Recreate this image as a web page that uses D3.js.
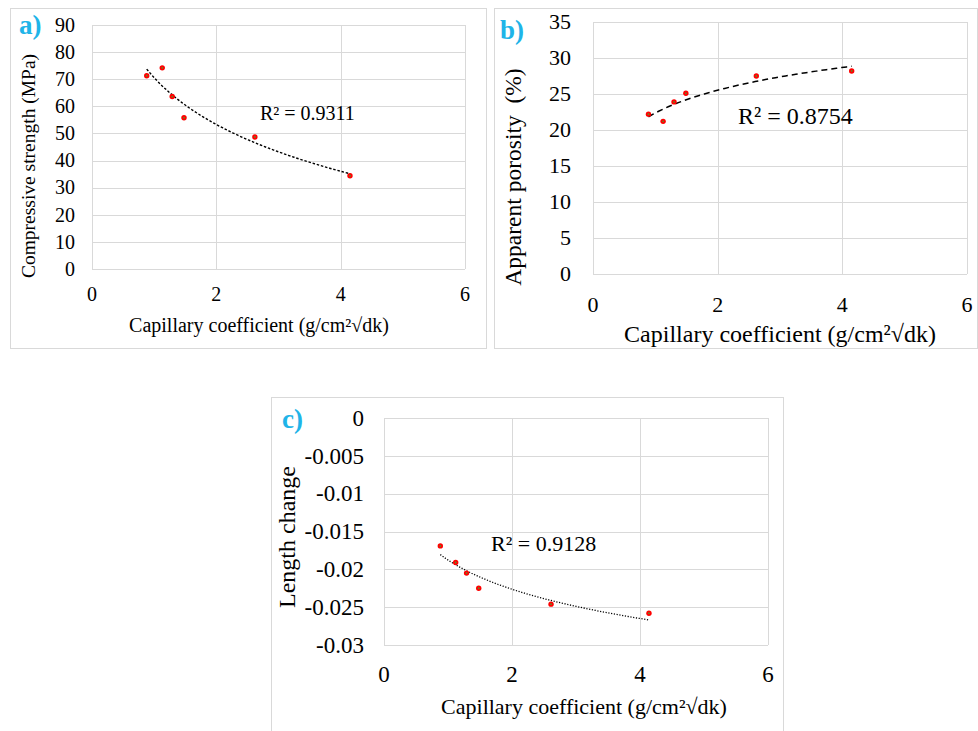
<!DOCTYPE html>
<html>
<head>
<meta charset="utf-8">
<script src="https://cdn.jsdelivr.net/npm/d3@7"></script>
<style>
  body { margin: 0; background: #fff; }
  svg { display: block; }
  svg text { font-family: "Liberation Serif", "Times New Roman", serif; }
</style>
</head>
<body>
<svg id="chart" width="978" height="731"></svg>
<script>
// Three scatter panels against capillary coefficient, each with a log trendline.

const capA = [0.88, 1.13, 1.29, 1.48, 2.62, 4.15];
const strength = [71.3, 74.2, 63.6, 55.8, 48.7, 34.4];

const capB = [0.89, 1.125, 1.30, 1.49, 2.62, 4.15];
const porosity = [22.2, 21.2, 23.9, 25.1, 27.5, 28.2];

const capC = [0.88, 1.12, 1.29, 1.48, 2.61, 4.14];
const lengthChange = [-0.0169, -0.0191, -0.0205, -0.0225, -0.0246, -0.0258];

const xTicks = [0, 2, 4, 6];
const yTicksA = d3.range(0, 91, 10);
const yTicksB = d3.range(0, 36, 5);
const yTicksC = [0, -0.005, -0.01, -0.015, -0.02, -0.025, -0.03];

const X_LABEL = 'Capillary coefficient (g/cm²√dk)';
const SERIF = '"Liberation Serif", "Times New Roman", serif';

const svg = d3.select('#chart');
svg.append('rect').attr('width', 978).attr('height', 731).attr('fill', '#fff');

// least squares y = a + b ln(x), same as the spreadsheet log trendline
function logFit(xs, ys) {
    const lx = xs.map(Math.log);
    const mx = d3.mean(lx), my = d3.mean(ys);
    const b = d3.sum(lx, (v, i) => (v - mx) * (ys[i] - my)) / d3.sum(lx, (v) => (v - mx) ** 2);
    return (x) => my + b * (Math.log(x) - mx);
}

function panel(o) {
    const g = svg.append('g').attr('font-family', SERIF);

    g.append('rect')
        .attr('x', o.frame[0] + 0.5).attr('y', o.frame[1] + 0.5)
        .attr('width', o.frame[2] - o.frame[0]).attr('height', o.frame[3] - o.frame[1])
        .attr('fill', '#fff').attr('stroke', '#d9d9d9');

    const x = d3.scaleLinear().domain([0, 6]).range([o.plot[0], o.plot[2]]);
    const y = d3.scaleLinear().domain(o.yDomain).range([o.plot[3], o.plot[1]]);

    // grid
    g.append('g').selectAll('line').data(o.yTicks).join('line')
        .attr('x1', o.plot[0]).attr('x2', o.plot[2])
        .attr('y1', (d) => Math.round(y(d)) + 0.5).attr('y2', (d) => Math.round(y(d)) + 0.5)
        .attr('stroke', '#d9d9d9').attr('stroke-width', 1);
    g.append('g').selectAll('line').data(xTicks).join('line')
        .attr('y1', o.plot[1]).attr('y2', o.plot[3])
        .attr('x1', (d) => Math.round(x(d)) + 0.5).attr('x2', (d) => Math.round(x(d)) + 0.5)
        .attr('stroke', '#d9d9d9').attr('stroke-width', 1);

    // tick labels
    g.append('g').selectAll('text').data(o.yTicks).join('text')
        .attr('x', o.plot[0] - o.yPad).attr('y', (d) => y(d))
        .attr('dy', '0.34em').attr('text-anchor', 'end')
        .attr('font-size', o.tickSize).attr('fill', '#000')
        .text(o.yFormat);
    g.append('g').selectAll('text').data(xTicks).join('text')
        .attr('x', (d) => x(d)).attr('y', o.xTickY)
        .attr('text-anchor', 'middle')
        .attr('font-size', o.tickSize).attr('fill', '#000')
        .text((d) => d);

    // axis titles
    g.append('text')
        .attr('x', o.xLabel[0]).attr('y', o.xLabel[1])
        .attr('text-anchor', 'middle').attr('font-size', o.titleSize)
        .text(X_LABEL);
    g.append('text')
        .attr('transform', `translate(${o.yLabel[0]},${o.yLabel[1]}) rotate(-90)`)
        .attr('text-anchor', 'middle').attr('font-size', o.yTitleSize)
        .style('white-space', 'pre')
        .text(o.yTitle);

    // trendline
    const fit = logFit(o.xs, o.ys);
    const [x0, x1] = d3.extent(o.xs);
    const xsLine = d3.range(0, 41).map((i) => x0 + (x1 - x0) * i / 40);
    g.append('path')
        .attr('d', d3.line().x((d) => x(d)).y((d) => y(fit(d)))(xsLine))
        .attr('fill', 'none').attr('stroke', '#000')
        .attr('stroke-width', o.trendWidth).attr('stroke-dasharray', o.dash);

    // markers
    const pts = o.xs.map((v, i) => [v, o.ys[i]]);
    g.append('g').selectAll('circle').data(pts).join('circle')
        .attr('cx', (d) => x(d[0])).attr('cy', (d) => y(d[1])).attr('r', 2.7)
        .attr('fill', '#ff0000');
    g.append('g').selectAll('circle').data(pts).join('circle')
        .attr('cx', (d) => x(d[0])).attr('cy', (d) => y(d[1])).attr('r', 0.9)
        .attr('fill', '#5b8f2a');

    g.append('text')
        .attr('x', o.r2[0]).attr('y', o.r2[1])
        .attr('font-size', o.r2Size)
        .text(o.r2Text);

    g.append('text')
        .attr('x', o.letter[0]).attr('y', o.letter[1])
        .attr('font-size', 27).attr('font-weight', 'bold').attr('fill', '#1fb4e8')
        .text(o.letterText);
}

panel({
    frame: [10, 8, 486, 348],
    plot: [92, 25, 465, 269],
    xs: capA, ys: strength,
    yDomain: [0, 90], yTicks: yTicksA, yFormat: (d) => d,
    yPad: 17, tickSize: 20, xTickY: 301,
    titleSize: 20, xLabel: [259, 332], yLabel: [35, 166], yTitleSize: 19.5,
    yTitle: 'Compressive strength (MPa)',
    trendWidth: 1.4, dash: '2.5,1.8',
    r2: [260, 120], r2Size: 20, r2Text: 'R² = 0.9311',
    letter: [19, 34], letterText: 'a)'
});

panel({
    frame: [494, 8, 977, 348],
    plot: [593, 22, 967, 274],
    xs: capB, ys: porosity,
    yDomain: [0, 35], yTicks: yTicksB, yFormat: (d) => d,
    yPad: 22, tickSize: 22, xTickY: 312,
    titleSize: 24, xLabel: [780, 342], yLabel: [521, 177], yTitleSize: 23.5,
    yTitle: 'Apparent porosity  (%)',
    trendWidth: 1.5, dash: '6,4',
    r2: [738, 124], r2Size: 24, r2Text: 'R² = 0.8754',
    letter: [500, 39], letterText: 'b)'
});

panel({
    frame: [271, 397, 783, 740],
    plot: [384, 418, 768, 645],
    xs: capC, ys: lengthChange,
    yDomain: [-0.03, 0], yTicks: yTicksC, yFormat: (d) => (d === 0 ? '0' : d3.format('')(d).replace('−', '-')),
    yPad: 20, tickSize: 23, xTickY: 682,
    titleSize: 22, xLabel: [584, 714], yLabel: [295, 537], yTitleSize: 24,
    yTitle: 'Length change',
    trendWidth: 1.3, dash: '1.2,1.6',
    r2: [491, 551], r2Size: 22, r2Text: 'R² = 0.9128',
    letter: [282, 428], letterText: 'c)'
});
</script>
</body>
</html>
